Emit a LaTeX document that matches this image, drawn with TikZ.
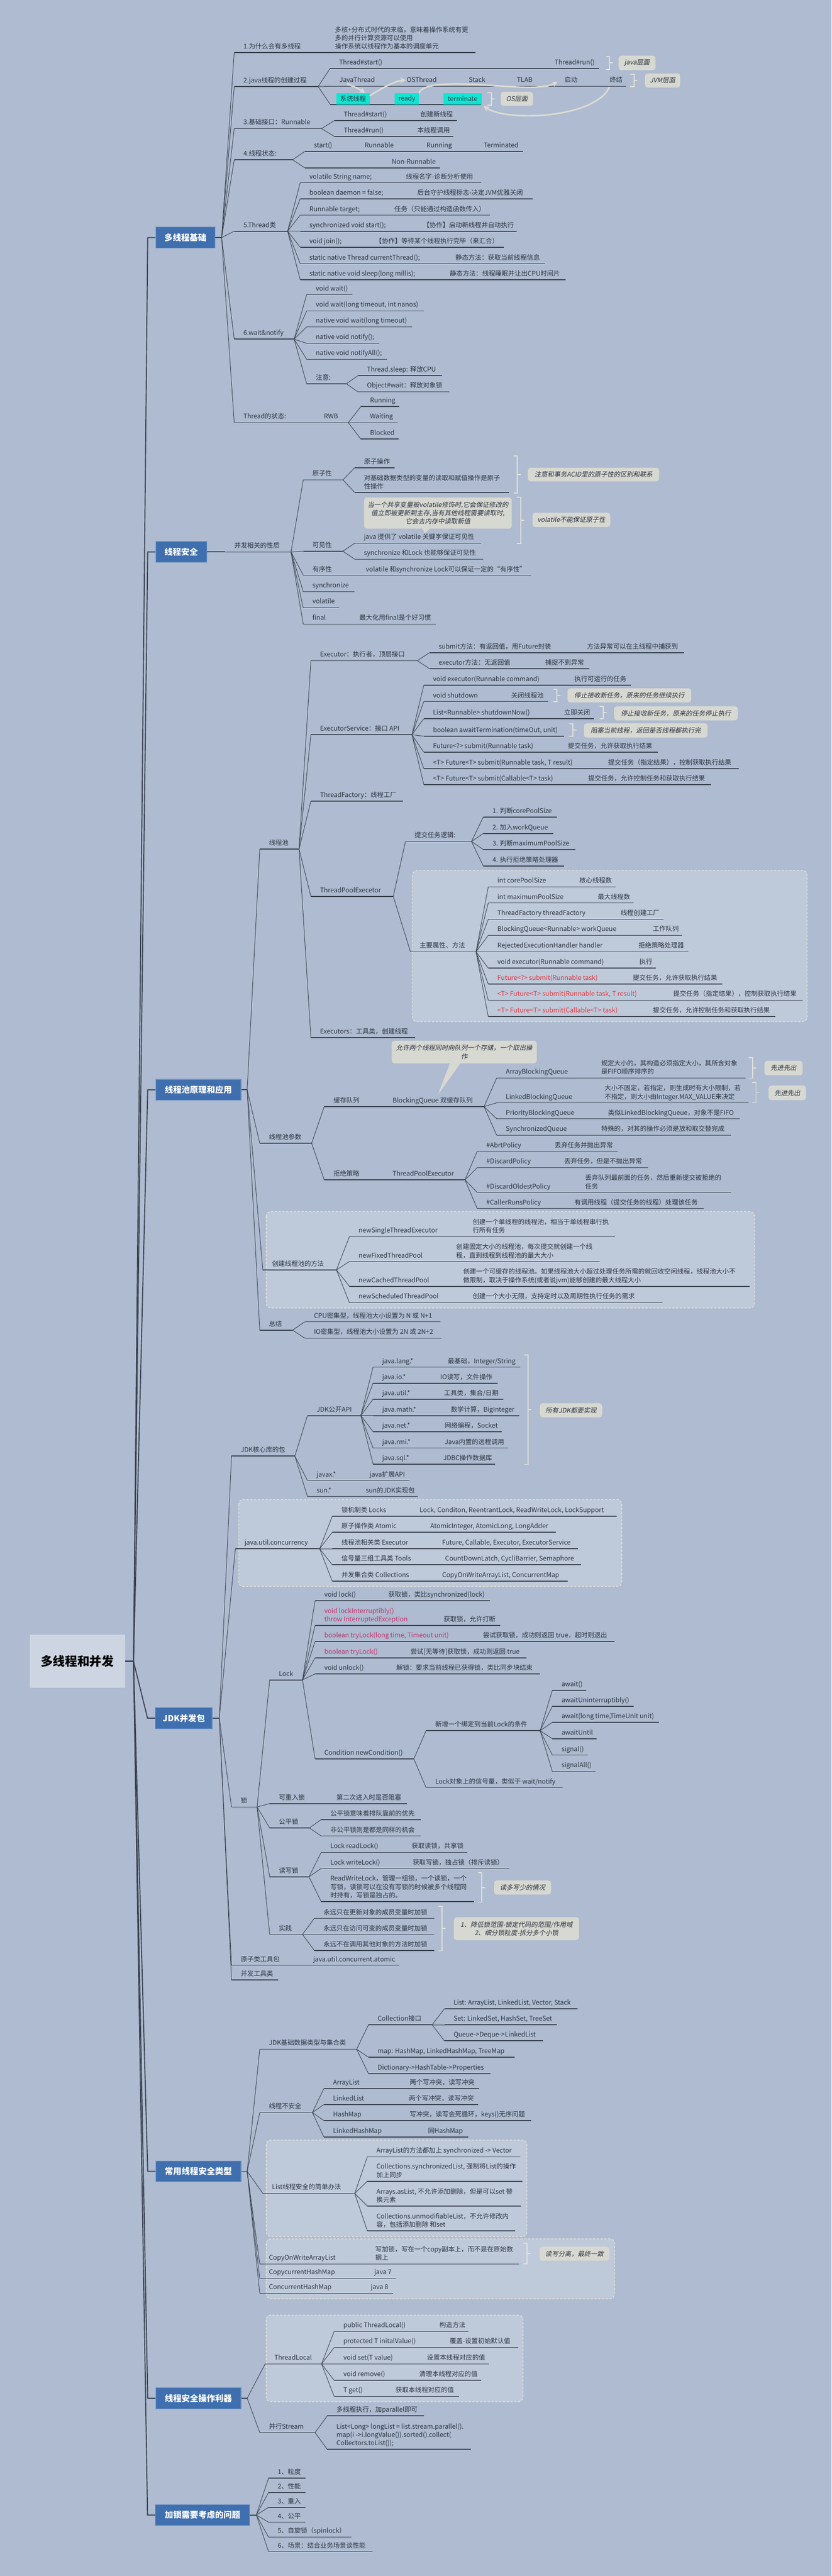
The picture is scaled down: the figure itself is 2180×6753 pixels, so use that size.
\documentclass[tikz,border=0pt]{standalone}
\usepackage{fontspec}
\setmainfont{Noto Sans CJK SC}
\newfontfamily\slfont{Noto Sans CJK SC}[FakeSlant=0.2]
\usetikzlibrary{arrows.meta}
\definecolor{bg}{RGB}{174,187,208}
\definecolor{regfill}{RGB}{190,201,218}
\definecolor{regline}{RGB}{226,226,218}
\definecolor{txt}{RGB}{43,51,64}
\definecolor{lncol}{RGB}{57,66,79}
\definecolor{notefill}{RGB}{215,216,209}
\definecolor{brkcol}{RGB}{227,226,219}
\definecolor{hlcol}{RGB}{16,229,210}
\definecolor{mainblue}{RGB}{63,111,174}
\definecolor{rootfill}{RGB}{205,213,227}
\definecolor{rd}{RGB}{229,52,58}
\definecolor{mg}{RGB}{194,51,110}
\definecolor{arrcol}{RGB}{221,220,212}
\tikzset{
  tp/.style={anchor=south west, inner xsep=0pt, inner ysep=7pt, text depth=3pt, align=left,
    font=\fontsize{17}{22}\selectfont, text=txt},
  ln/.style={draw=lncol, line width=1.3pt},
  uline/.style={draw=lncol, line width=2.2pt},
  mline/.style={draw=lncol, line width=2.6pt},
  mainbox/.style={fill=mainblue, draw=mainblue!75!white, line width=1.5pt, text=white,
    minimum height=55, font=\bfseries\fontsize{22}{26}\selectfont},
  rootbox/.style={fill=rootfill, text=black, minimum width=250, minimum height=140,
    font=\bfseries\fontsize{32}{38}\selectfont},
  note/.style={fill=notefill, rounded corners=7pt, text=txt, inner sep=3pt,
    font=\slfont\fontsize{17}{22}\selectfont},
  hl/.style={anchor=south west, fill=hlcol, minimum height=30, inner sep=0pt, text=txt,
    font=\fontsize{17}{22}\selectfont},
  brk/.style={draw=brkcol, line width=2.5pt},
  region/.style={fill=regfill, draw=regline, line width=2pt, dash pattern=on 6pt off 4pt, rounded corners=12pt},
  flow/.style={draw=arrcol, line width=4pt, -{Stealth[length=15pt,width=15pt]}},
}
\begin{document}
\begin{tikzpicture}[x=1pt,y=-1pt]
\def\tp#1#2#3#4#5{%
  \coordinate (#1-s) at (#2,#3);
  \coordinate (#1-e) at (#4,#3);
  \draw[uline] (#1-s) -- (#1-e);
  \node[tp] (#1) at (#2+24,#3) {#5};}
\def\fan#1#2{\foreach \c in {#2}{\draw[ln] (#1) -- (\c-s);}}
\def\brk#1#2#3{\draw[brk] (#1-10,#2) -- (#1,#2) -- (#1,#3) -- (#1-10,#3) ({#1},{(#2+#3)/2}) -- ++(9,0);}

\fill[bg] (0,0) rectangle (2180,6753);
\useasboundingbox (0,0) rectangle (2180,6753);

% regions
\draw[region] (1081,2282) rectangle (2116,2678);
\draw[region] (698,3176) rectangle (1978,3429);
\draw[region] (626,3931) rectangle (1630,4159);
\draw[region] (698,5610) rectangle (1381,5863);
\draw[region] (698,5869) rectangle (1611,6026);
\draw[region] (698,6069) rectangle (1371,6296);

% root and main topics
\node[rootbox] (r0) at (203,4355) {多线程和并发};
\node[mainbox, minimum width=156] (a0) at (486,623) {多线程基础};
\node[mainbox, minimum width=134] (b0) at (475,1447) {线程安全};
\node[mainbox, minimum width=224] (c0) at (520,2857) {线程池原理和应用};
\node[mainbox, minimum width=149] (d0) at (482,4504) {JDK并发包};
\node[mainbox, minimum width=224] (e0) at (520,5692) {常用线程安全类型};
\node[mainbox, minimum width=224] (f0) at (520,6287) {线程安全操作利器};
\node[mainbox, minimum width=247] (g0) at (531,6593) {加锁需要考虑的问题};
\foreach \m in {a0,b0,c0,d0,e0,f0,g0}
  \draw[mline] (r0.east) -- (350,4355) -- ([xshift=-20pt]\m.west) -- (\m.west);

% 多线程基础
\coordinate (a0f) at (581,623);
\draw[mline] (a0.east) -- (a0f);
\tp{a1}{614}{138}{854}{1.为什么会有多线程}
\tp{a1x}{854}{138}{1246}{多核+分布式时代的来临，意味着操作系统有更\\多的并行计算资源可以使用\\操作系统以线程作为基本的调度单元}
\tp{a2}{614}{227}{834}{2.java线程的创建过程}
\tp{a2s}{865}{180}{1430}{Thread\#start()}
\tp{a2r}{1430}{180}{1571}{Thread\#run()}
\tp{a2j}{866}{226}{1042}{JavaThread}
\tp{a2o}{1042}{226}{1205}{OSThread}
\tp{a2k}{1205}{226}{1331}{Stack}
\tp{a2t}{1331}{226}{1456}{TLAB}
\tp{a2q}{1456}{226}{1574}{启动}
\tp{a2z}{1574}{226}{1641}{终结}
\tp{a2c}{866}{274}{1262}{}
\node[hl, minimum width=87] (t1) at (882,274) {系统线程};
\node[hl, minimum width=63] (t2) at (1035,274) {ready};
\node[hl, minimum width=99] (t3) at (1163,274) {terminate};
\brk{1598}{148}{182}
\node[note, minimum width=97, minimum height=38] (n1) at (1670,165) {java层面};
\brk{1662}{195}{227}
\node[note, minimum width=92, minimum height=37] (n2) at (1737,211) {JVM层面};
\brk{1288}{243}{275}
\node[note, minimum width=85, minimum height=37] (n3) at (1355,259) {OS层面};
\draw[flow] ([xshift=20pt,yshift=6pt]a2j.south west) to[bend left=6] ([xshift=-12pt]t1.north east);
\draw[flow] ([yshift=-8pt]t1.north east) .. controls +(20,-15) and +(-25,0) .. ([xshift=-2pt]a2o.west);
\draw[flow] (t2.north east) .. controls (1110,215) and (1200,218) .. (1290,224)
  .. controls (1370,230) and (1430,232) .. (1462,214);
\draw[flow] ([yshift=-2pt]a2z.south west) .. controls (1560,310) and (1330,320) .. ([xshift=5pt,yshift=-4pt]t3.south east);
\tp{a3}{614}{337}{843}{3.基础接口：Runnable}
\tp{a3a}{877}{316}{1078}{Thread\#start()}
\tp{a3b}{1078}{316}{1198}{创建新线程}
\tp{a3c}{877}{358}{1070}{Thread\#run()}
\tp{a3d}{1070}{358}{1189}{本线程调用}
\tp{a4}{614}{419}{767}{4.线程状态:}
\tp{a4a}{799}{397}{932}{start()}
\tp{a4b}{932}{397}{1094}{Runnable}
\tp{a4c}{1094}{397}{1244}{Running}
\tp{a4d}{1244}{397}{1371}{Terminated}
\tp{a4e}{799}{440}{1003}{}
\tp{a4f}{1003}{440}{1153}{Non-Runnable}
\tp{a5}{614}{606}{754}{5.Thread类}
\tp{a5a}{787}{479}{1040}{volatile String name;}
\tp{a5b}{1040}{479}{1262}{线程名字-诊断分析使用}
\tp{a5c}{787}{521}{1070}{boolean daemon = false;}
\tp{a5d}{1070}{521}{1396}{后台守护线程标志-决定JVM优雅关闭}
\tp{a5e}{787}{564}{1010}{Runnable target;}
\tp{a5f}{1010}{564}{1285}{任务（只能通过构造函数传入）}
\tp{a5g}{787}{606}{1085}{synchronized void start();}
\tp{a5h}{1085}{606}{1354}{【协作】启动新线程并自动执行}
\tp{a5i}{787}{648}{960}{void join();}
\tp{a5j}{960}{648}{1321}{【协作】等待某个线程执行完毕（来汇合）}
\tp{a5k}{787}{691}{1170}{static native Thread currentThread();}
\tp{a5l}{1170}{691}{1429}{静态方法：获取当前线程信息}
\tp{a5m}{787}{733}{1155}{static native void sleep(long millis);}
\tp{a5n}{1155}{733}{1483}{静态方法：线程睡眠并让出CPU时间片}
\tp{a6}{614}{889}{771}{6.wait\&notify}
\tp{a6a}{804}{772}{924}{void wait()}
\tp{a6b}{804}{815}{1111}{void wait(long timeout, int nanos)}
\tp{a6c}{804}{857}{1081}{native void wait(long timeout)}
\tp{a6d}{804}{900}{994}{native void notify();}
\tp{a6e}{804}{942}{1014}{native void notifyAll();}
\tp{a6f}{804}{1006}{908}{注意:}
\tp{a6g}{938}{985}{1159}{Thread.sleep: 释放CPU}
\tp{a6h}{938}{1027}{1178}{Object\#wait：释放对象锁}
\tp{a7}{614}{1108}{825}{Thread的状态:}
\tp{a7r}{825}{1108}{913}{RWB}
\tp{a7a}{946}{1066}{1047}{Running}
\tp{a7b}{946}{1108}{1042}{Waiting}
\tp{a7c}{946}{1151}{1045}{Blocked}
\fan{a0f}{a1,a2,a3,a4,a5,a6,a7}
\fan{a2-e}{a2s,a2j,a2c}
\fan{a3-e}{a3a,a3c}
\fan{a4-e}{a4a,a4e}
\fan{a5-e}{a5a,a5c,a5e,a5g,a5i,a5k,a5m}
\fan{a6-e}{a6a,a6b,a6c,a6d,a6e,a6f}
\fan{a6f-e}{a6g,a6h}
\fan{a7r-e}{a7a,a7b,a7c}

% 线程安全
\tp{b1}{590}{1447}{763}{并发相关的性质}
\draw[mline] (b0.east) -- (b1-s);
\tp{b2}{795}{1258}{899}{原子性}
\tp{b2a}{930}{1226}{1035}{原子操作}
\tp{b2b}{930}{1291}{1334}{对基础数据类型的变量的读取和赋值操作是原子\\性操作}
\brk{1356}{1195}{1292}
\node[note, minimum width=344, minimum height=36] (n4) at (1556,1244) {注意和事务ACID里的原子性的区别和联系};
\tp{b3}{795}{1445}{899}{可见性}
\tp{b3a}{930}{1424}{1262}{java 提供了 volatile 关键字保证可见性}
\tp{b3b}{930}{1466}{1267}{synchronize 和Lock 也能够保证可见性}
\node[note, align=center, minimum width=387, minimum height=82] (n5) at (1148,1345)
  {当一个共享变量被volatile修饰时,它会保证修改的\\值立即被更新到主存,当有其他线程需要读取时,\\它会去内存中读取新值};
\fill[notefill] (1106,1384) -- (1128,1384) -- (1114,1398) -- cycle;
\brk{1365}{1303}{1425}
\node[note, minimum width=204, minimum height=37] (n6) at (1498,1363) {volatile不能保证原子性};
\tp{b4}{795}{1508}{935}{有序性}
\tp{b4a}{935}{1508}{1393}{volatile 和synchronize Lock可以保证一定的“有序性”}
\tp{b5}{795}{1551}{929}{synchronize}
\tp{b6}{795}{1593}{889}{volatile}
\tp{b7}{795}{1636}{918}{final}
\tp{b7a}{918}{1636}{1142}{最大化用final是个好习惯}
\fan{b1-e}{b2,b3,b4,b5,b6,b7}
\fan{b2-e}{b2a,b2b}
\fan{b3-e}{b3a,b3b}

% 线程池原理和应用
\coordinate (c0f) at (648,2857);
\draw[mline] (c0.east) -- (c0f);
\tp{c1}{681}{2226}{784}{线程池}
\tp{c11}{815}{1732}{1094}{Executor：执行者，顶层接口}
\tp{c11a}{1126}{1711}{1515}{submit方法：有返回值，用Future封装}
\tp{c11b}{1515}{1711}{1794}{方法异常可以在主线程中捕获到}
\tp{c11c}{1126}{1753}{1405}{executor方法：无返回值}
\tp{c11d}{1405}{1753}{1545}{捕捉不到异常}
\tp{c12}{815}{1926}{1080}{ExecutorService：接口 API}
\tp{c12a}{1111}{1796}{1482}{void executor(Runnable command)}
\tp{c12b}{1482}{1796}{1655}{执行可运行的任务}
\tp{c12c}{1111}{1839}{1316}{void shutdown}
\tp{c12d}{1316}{1839}{1437}{关闭线程池}
\brk{1460}{1807}{1840}
\node[note, minimum width=324, minimum height=37] (n7) at (1650,1823) {停止接收新任务，原来的任务继续执行};
\tp{c12e}{1111}{1884}{1455}{List<Runnable> shutdownNow()}
\tp{c12f}{1455}{1884}{1557}{立即关闭}
\brk{1582}{1852}{1884}
\node[note, minimum width=324, minimum height=37] (n8) at (1772,1870) {停止接收新任务，原来的任务停止执行};
\tp{c12g}{1111}{1930}{1479}{boolean awaitTermination(timeOut, unit)}
\brk{1502}{1897}{1930}
\node[note, minimum width=324, minimum height=37] (n9) at (1693,1915) {阻塞当前线程，返回是否线程都执行完};
\tp{c12h}{1111}{1972}{1465}{Future<?> submit(Runnable task)}
\tp{c12i}{1465}{1972}{1725}{提交任务，允许获取执行结果}
\tp{c12j}{1111}{2015}{1570}{<T> Future<T> submit(Runnable task, T result)}
\tp{c12k}{1570}{2015}{1937}{提交任务（指定结果），控制获取执行结果}
\tp{c12l}{1111}{2057}{1518}{<T> Future<T> submit(Callable<T> task)}
\tp{c12m}{1518}{2057}{1864}{提交任务，允许控制任务和获取执行结果}
\tp{c13}{815}{2100}{1056}{ThreadFactory：线程工厂}
\tp{c14}{815}{2350}{1031}{ThreadPoolExecetor}
\tp{c141}{1063}{2206}{1236}{提交任务逻辑:}
\tp{c141a}{1267}{2142}{1460}{1. 判断corePoolSize}
\tp{c141b}{1267}{2185}{1451}{2. 加入workQueue}
\tp{c141c}{1267}{2227}{1509}{3. 判断maximumPoolSize}
\tp{c141d}{1267}{2270}{1479}{4. 执行拒绝策略处理器}
\tp{c142}{1076}{2495}{1248}{主要属性、方法}
\tp{c142a}{1280}{2325}{1495}{int corePoolSize}
\tp{c142b}{1495}{2325}{1614}{核心线程数}
\tp{c142c}{1280}{2367}{1543}{int maximumPoolSize}
\tp{c142d}{1543}{2367}{1661}{最大线程数}
\tp{c142e}{1280}{2410}{1603}{ThreadFactory threadFactory}
\tp{c142f}{1603}{2410}{1739}{线程创建工厂}
\tp{c142g}{1280}{2452}{1687}{BlockingQueue<Runnable> workQueue}
\tp{c142h}{1687}{2452}{1788}{工作队列}
\tp{c142i}{1280}{2495}{1650}{RejectedExecutionHandler handler}
\tp{c142j}{1650}{2495}{1804}{拒绝策略处理器}
\tp{c142k}{1280}{2538}{1652}{void executor(Runnable command)}
\tp{c142l}{1652}{2538}{1719}{执行}
\tp{c142m}{1280}{2580}{1635}{\textcolor{rd}{Future<?> submit(Runnable task)}}
\tp{c142n}{1635}{2580}{1893}{提交任务，允许获取执行结果}
\tp{c142o}{1280}{2622}{1741}{\textcolor{rd}{<T> Future<T> submit(Runnable task, T result)}}
\tp{c142p}{1741}{2622}{2104}{提交任务（指定结果），控制获取执行结果}
\tp{c142q}{1280}{2665}{1688}{\textcolor{rd}{<T> Future<T> submit(Callable<T> task)}}
\tp{c142r}{1688}{2665}{2033}{提交任务，允许控制任务和获取执行结果}
\tp{c15}{815}{2720}{1089}{Executors：工具类，创建线程}
\tp{c2}{681}{2997}{817}{线程池参数}
\tp{c21}{850}{2901}{1005}{缓存队列}
\tp{c21a}{1005}{2901}{1269}{BlockingQueue 双缓存队列}
\node[note, align=center, minimum width=380, minimum height=59] (n10) at (1217,2758)
  {允许两个线程同时向队列一个存储，一个取出操\\作};
\fill[notefill] (1180,2786) -- (1208,2786) -- (1148,2870) -- cycle;
\tp{c21b}{1302}{2826}{1552}{ArrayBlockingQueue}
\tp{c21c}{1552}{2826}{1954}{规定大小的，其构造必须指定大小，其所含对象\\是FIFO顺序排序的}
\brk{1973}{2773}{2826}
\node[note, minimum width=100, minimum height=38] (n11) at (2054,2800) {先进先出};
\tp{c21d}{1302}{2891}{1561}{LinkedBlockingQueue}
\tp{c21e}{1561}{2891}{1963}{大小不固定，若指定，则生成时有大小限制，若\\不指定，则大小由Integer.MAX\_VALUE来决定}
\brk{1982}{2837}{2891}
\node[note, minimum width=98, minimum height=38] (n12) at (2064,2865) {先进先出};
\tp{c21f}{1302}{2933}{1570}{PriorityBlockingQueue}
\tp{c21g}{1570}{2933}{1939}{类似LinkedBlockingQueue，对象不是FIFO}
\tp{c21h}{1302}{2976}{1552}{SynchronizedQueue}
\tp{c21i}{1552}{2976}{1916}{特殊的，对其的操作必须是放和取交替完成}
\tp{c22}{850}{3093}{1005}{拒绝策略}
\tp{c22a}{1005}{3093}{1219}{ThreadPoolExecutor}
\tp{c22b}{1251}{3018}{1430}{\#AbrtPolicy}
\tp{c22c}{1430}{3018}{1619}{丢弃任务并抛出异常}
\tp{c22d}{1251}{3061}{1455}{\#DiscardPolicy}
\tp{c22e}{1455}{3061}{1699}{丢弃任务，但是不抛出异常}
\tp{c22f}{1251}{3126}{1510}{\#DiscardOldestPolicy}
\tp{c22g}{1510}{3126}{1916}{丢弃队列最前面的任务，然后重新提交被拒绝的\\任务}
\tp{c22h}{1251}{3168}{1482}{\#CallerRunsPolicy}
\tp{c22i}{1482}{3168}{1845}{有调用线程（提交任务的线程）处理该任务}
\tp{c3}{689}{3329}{882}{创建线程池的方法}
\tp{c3a}{916}{3242}{1215}{newSingleThreadExecutor}
\tp{c3b}{1215}{3242}{1612}{创建一个单线程的线程池，相当于单线程串行执\\行所有任务}
\tp{c3c}{916}{3307}{1172}{newFixedThreadPool}
\tp{c3d}{1172}{3307}{1572}{创建固定大小的线程池，每次提交就创建一个线\\程，直到线程到线程池的最大大小}
\tp{c3e}{916}{3372}{1190}{newCachedThreadPool}
\tp{c3f}{1190}{3372}{1965}{创建一个可缓存的线程池。如果线程池大小超过处理任务所需的就回收空闲线程，线程池大小不\\做限制，取决于操作系统(或者说jvm)能够创建的最大线程大小}
\tp{c3g}{916}{3415}{1215}{newScheduledThreadPool}
\tp{c3h}{1215}{3415}{1737}{创建一个大小无限，支持定时以及周期性执行任务的需求}
\tp{c4}{681}{3487}{767}{总结}
\tp{c4a}{799}{3465}{1155}{CPU密集型，线程池大小设置为 N 或 N+1}
\tp{c4b}{799}{3508}{1158}{IO密集型，线程池大小设置为 2N 或 2N+2}
\fan{c0f}{c1,c2,c3,c4}
\fan{c1-e}{c11,c12,c13,c14,c15}
\fan{c11-e}{c11a,c11c}
\fan{c12-e}{c12a,c12c,c12e,c12g,c12h,c12j,c12l}
\fan{c14-e}{c141,c142}
\fan{c141-e}{c141a,c141b,c141c,c141d}
\fan{c142-e}{c142a,c142c,c142e,c142g,c142i,c142k,c142m,c142o,c142q}
\fan{c2-e}{c21,c22}
\fan{c21a-e}{c21b,c21d,c21f,c21h}
\fan{c22a-e}{c22b,c22d,c22f,c22h}
\fan{c3-e}{c3a,c3c,c3e,c3g}
\fan{c4-e}{c4a,c4b}

% JDK并发包
\coordinate (d0f) at (575,4504);
\draw[mline] (d0.east) -- (d0f);
\tp{d1}{607}{3817}{773}{JDK核心库的包}
\tp{d11}{806}{3711}{946}{JDK公开API}
\tp{d11a}{978}{3584}{1150}{java.lang.*}
\tp{d11b}{1150}{3584}{1364}{最基础，Integer/String}
\tp{d11c}{978}{3626}{1130}{java.io.*}
\tp{d11d}{1130}{3626}{1304}{IO读写，文件操作}
\tp{d11e}{978}{3668}{1140}{java.util.*}
\tp{d11f}{1140}{3668}{1320}{工具类，集合/日期}
\tp{d11g}{978}{3711}{1158}{java.math.*}
\tp{d11h}{1158}{3711}{1362}{数学计算，BigInteger}
\tp{d11i}{978}{3753}{1142}{java.net.*}
\tp{d11j}{1142}{3753}{1315}{网络编程，Socket}
\tp{d11k}{978}{3796}{1142}{java.rmi.*}
\tp{d11l}{1142}{3796}{1331}{Java内置的远程调用}
\tp{d11m}{978}{3838}{1138}{java.sql.*}
\tp{d11n}{1138}{3838}{1298}{JDBC操作数据库}
\brk{1384}{3552}{3839}
\node[note, minimum width=163, minimum height=37] (n13) at (1497,3697) {所有JDK都要实现};
\tp{d12}{806}{3881}{945}{javax.*}
\tp{d12a}{945}{3881}{1074}{java扩展API}
\tp{d13}{806}{3923}{935}{sun.*}
\tp{d13a}{935}{3923}{1095}{sun的JDK实现包}
\tp{d2}{617}{4060}{838}{java.util.concurrency}
\tp{d2a}{871}{3975}{1076}{锁机制类 Locks}
\tp{d2b}{1076}{3975}{1617}{Lock, Conditon, ReentrantLock, ReadWriteLock, LockSupport}
\tp{d2c}{871}{4017}{1104}{原子操作类 Atomic}
\tp{d2d}{1104}{4017}{1457}{AtomicInteger, AtomicLong, LongAdder}
\tp{d2e}{871}{4060}{1135}{线程池相关类 Executor}
\tp{d2f}{1135}{4060}{1515}{Future, Callable, Executor, ExecutorService}
\tp{d2g}{871}{4102}{1143}{信号量三组工具类 Tools}
\tp{d2h}{1143}{4102}{1524}{CountDownLatch, CycliBarrier, Semaphore}
\tp{d2i}{871}{4145}{1135}{并发集合类 Collections}
\tp{d2j}{1135}{4145}{1488}{CopyOnWriteArrayList, ConcurrentMap}
\tp{d3}{607}{4737}{674}{锁}
\tp{d31}{707}{4404}{793}{Lock}
\tp{d31a}{826}{4196}{994}{void lock()}
\tp{d31b}{994}{4196}{1284}{获取锁，类比synchronized(lock)}
\tp{d31c}{826}{4261}{1139}{\textcolor{mg}{void lockInterruptibly()}\\\textcolor{mg}{throw InterruptedException}}
\tp{d31d}{1139}{4261}{1311}{获取锁，允许打断}
\tp{d31e}{826}{4303}{1242}{\textcolor{mg}{boolean tryLock(long time, Timeout unit)}}
\tp{d31f}{1242}{4303}{1611}{尝试获取锁，成功则返回 true，超时则退出}
\tp{d31g}{826}{4346}{1052}{\textcolor{mg}{boolean tryLock()}}
\tp{d31h}{1052}{4346}{1380}{尝试[无等待]获取锁，成功则返回 true}
\tp{d31i}{826}{4388}{1015}{void unlock()}
\tp{d31j}{1015}{4388}{1415}{解锁：要求当前线程已获得锁，类比同步块结束}
\tp{d31k}{826}{4611}{1085}{Condition newCondition()}
\tp{d31l}{1117}{4537}{1416}{新增一个绑定到当前Lock的条件}
\tp{d31m}{1448}{4431}{1537}{await()}
\tp{d31n}{1448}{4473}{1661}{awaitUninterruptibly()}
\tp{d31o}{1448}{4515}{1728}{await(long time,TimeUnit unit)}
\tp{d31p}{1448}{4558}{1564}{awaitUntil}
\tp{d31q}{1448}{4601}{1541}{signal()}
\tp{d31r}{1448}{4644}{1561}{signalAll()}
\tp{d31s}{1117}{4686}{1475}{Lock对象上的信号量，类似于 wait/notify}
\tp{d32}{707}{4728}{858}{可重入锁}
\tp{d32a}{858}{4728}{1067}{第二次进入时是否阻塞}
\tp{d33}{707}{4792}{811}{公平锁}
\tp{d33a}{842}{4770}{1103}{公平锁意味着排队靠前的优先}
\tp{d33b}{842}{4813}{1103}{非公平锁则是都是同样的机会}
\tp{d34}{707}{4920}{810}{读写锁}
\tp{d34a}{842}{4856}{1055}{Lock readLock()}
\tp{d34b}{1055}{4856}{1225}{获取读锁，共享锁}
\tp{d34c}{842}{4898}{1058}{Lock writeLock()}
\tp{d34d}{1058}{4898}{1334}{获取写锁，独占锁（排斥读锁）}
\tp{d34e}{842}{4985}{1243}{ReadWriteLock，管理一组锁，一个读锁，一个\\写锁，读锁可以在没有写锁的时候被多个线程同\\时持有，写锁是独占的。}
\brk{1263}{4909}{4987}
\node[note, minimum width=149, minimum height=37] (n14) at (1370,4948) {读多写少的情况};
\tp{d35}{707}{5071}{793}{实践}
\tp{d35a}{824}{5029}{1139}{永远只在更新对象的成员变量时加锁}
\tp{d35b}{824}{5071}{1139}{永远只在访问可变的成员变量时加锁}
\tp{d35c}{824}{5113}{1139}{永远不在调用其他对象的方法时加锁}
\brk{1159}{4997}{5114}
\node[note, align=center, minimum width=328, minimum height=60] (n15) at (1354,5056)
  {1、降低锁范围-锁定代码的范围/作用域\\2、细分锁粒度-拆分多个小锁};
\tp{d4}{607}{5152}{797}{原子类工具包}
\tp{d4a}{797}{5152}{1047}{java.util.concurrent.atomic}
\tp{d5}{607}{5190}{729}{并发工具类}
\fan{d0f}{d1,d2,d3,d4,d5}
\fan{d1-e}{d11,d12,d13}
\fan{d11-e}{d11a,d11c,d11e,d11g,d11i,d11k,d11m}
\fan{d2-e}{d2a,d2c,d2e,d2g,d2i}
\fan{d3-e}{d31,d32,d33,d34,d35}
\fan{d31-e}{d31a,d31c,d31e,d31g,d31i,d31k}
\fan{d31k-e}{d31l,d31s}
\fan{d31l-e}{d31m,d31n,d31o,d31p,d31q,d31r}
\fan{d33-e}{d33a,d33b}
\fan{d34-e}{d34a,d34c,d34e}
\fan{d35-e}{d35a,d35b,d35c}

% 常用线程安全类型
\coordinate (e0f) at (648,5692);
\draw[mline] (e0.east) -- (e0f);
\tp{e1}{681}{5372}{935}{JDK基础数据类型与集合类}
\tp{e11}{966}{5308}{1133}{Collection接口}
\tp{e11a}{1165}{5266}{1514}{List: ArrayList, LinkedList, Vector, Stack}
\tp{e11b}{1165}{5308}{1460}{Set: LinkedSet, HashSet, TreeSet}
\tp{e11c}{1165}{5350}{1423}{Queue->Deque->LinkedList}
\tp{e12}{966}{5393}{1349}{map: HashMap, LinkedHashMap, TreeMap}
\tp{e13}{966}{5436}{1286}{Dictionary->HashTable->Properties}
\tp{e2}{681}{5538}{819}{线程不安全}
\tp{e2a}{849}{5475}{1050}{ArrayList}
\tp{e2b}{1050}{5475}{1256}{两个写冲突，读写冲突}
\tp{e2c}{849}{5517}{1048}{LinkedList}
\tp{e2d}{1048}{5517}{1254}{两个写冲突，读写冲突}
\tp{e2e}{849}{5559}{1050}{HashMap}
\tp{e2f}{1050}{5559}{1393}{写冲突，读写会死循环，keys()无序问题}
\tp{e2g}{849}{5602}{1098}{LinkedHashMap}
\tp{e2h}{1098}{5602}{1228}{同HashMap}
\tp{e3}{689}{5750}{930}{List线程安全的简单办法}
\tp{e3a}{963}{5654}{1364}{ArrayList的方法都加上 synchronized -> Vector}
\tp{e3b}{963}{5718}{1369}{Collections.synchronizedList, 强制将List的操作\\加上同步}
\tp{e3c}{963}{5783}{1366}{Arrays.asList, 不允许添加删除，但是可以set 替\\换元素}
\tp{e3d}{963}{5848}{1350}{Collections.unmodifiableList，不允许修改内\\容，包括添加删除 和set}
\tp{e4}{681}{5935}{960}{CopyOnWriteArrayList}
\tp{e4a}{960}{5935}{1362}{写加锁，写在一个copy副本上，而不是在原始数\\据上}
\brk{1382}{5880}{5935}
\node[note, minimum width=183, minimum height=37] (n16) at (1506,5908) {读写分离，最终一致};
\tp{e5}{681}{5973}{957}{CopycurrentHashMap}
\tp{e5a}{957}{5973}{1038}{java 7}
\tp{e6}{681}{6012}{948}{ConcurrentHashMap}
\tp{e6a}{948}{6012}{1030}{java 8}
\fan{e0f}{e1,e2,e3,e4,e5,e6}
\fan{e1-e}{e11,e12,e13}
\fan{e11-e}{e11a,e11b,e11c}
\fan{e2-e}{e2a,e2c,e2e,e2g}
\fan{e3-e}{e3a,e3b,e3c,e3d}

% 线程安全操作利器
\coordinate (f0f) at (648,6287);
\draw[mline] (f0.east) -- (f0f);
\tp{f1}{695}{6197}{843}{ThreadLocal}
\tp{f1a}{876}{6112}{1128}{public ThreadLocal()}
\tp{f1b}{1128}{6112}{1228}{构造方法}
\tp{f1c}{876}{6154}{1155}{protected T initalValue()}
\tp{f1d}{1155}{6154}{1359}{覆盖-设置初始默认值}
\tp{f1e}{876}{6197}{1095}{void set(T value)}
\tp{f1f}{1095}{6197}{1282}{设置本线程对应的值}
\tp{f1g}{876}{6240}{1075}{void remove()}
\tp{f1h}{1075}{6240}{1262}{清理本线程对应的值}
\tp{f1i}{876}{6282}{1013}{T get()}
\tp{f1j}{1013}{6282}{1203}{获取本线程对应的值}
\tp{f2}{681}{6377}{826}{并行Stream}
\tp{f2a}{858}{6333}{1111}{多线程执行，加parallel即可}
\tp{f2b}{858}{6421}{1234}{List<Long> longList = list.stream.parallel().\\map(i ->i.longValue()).sorted().collect(\\Collectors.toList());}
\fan{f0f}{f1,f2}
\fan{f1-e}{f1a,f1c,f1e,f1g,f1i}
\fan{f2-e}{f2a,f2b}

% 加锁需要考虑的问题
\coordinate (g0f) at (672,6593);
\draw[mline] (g0.east) -- (g0f);
\tp{g1}{704}{6496}{801}{1、粒度}
\tp{g2}{704}{6534}{801}{2、性能}
\tp{g3}{704}{6573}{801}{3、重入}
\tp{g4}{704}{6612}{801}{4、公平}
\tp{g5}{704}{6651}{921}{5、自旋锁（spinlock）}
\tp{g6}{704}{6689}{976}{6、场景：结合业务场景谈性能}
\fan{g0f}{g1,g2,g3,g4,g5,g6}
\end{tikzpicture}
\end{document}
